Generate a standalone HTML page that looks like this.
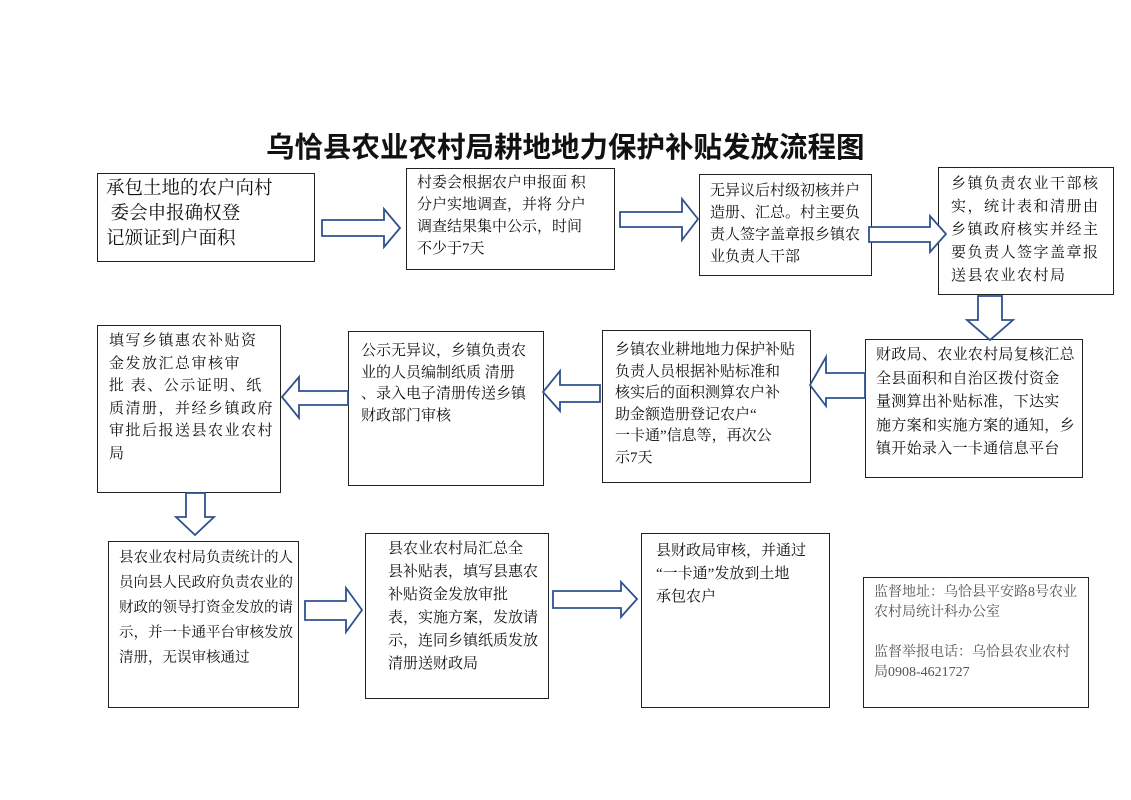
<!DOCTYPE html>
<html><head><meta charset="utf-8"><style>
html,body{margin:0;padding:0;background:#fff;}
body{width:1131px;height:800px;position:relative;overflow:hidden;font-family:"Liberation Serif","Noto Serif CJK SC",serif;color:#111;}
.b{position:absolute;border:1.5px solid #222;box-sizing:border-box;white-space:nowrap;font-size:15px;line-height:22px;overflow:hidden;}
.t{position:absolute;left:266px;top:125px;width:600px;font-family:"Liberation Sans","Noto Sans CJK SC",sans-serif;font-weight:bold;font-size:28.5px;letter-spacing:0px;white-space:nowrap;}
svg{position:absolute;left:0;top:0;}
</style></head><body>
<div class="t">乌恰县农业农村局耕地地力保护补贴发放流程图</div>

<div class="b" style="left:97px;top:173px;width:218px;height:89px;padding:3px 0 0 8px;font-size:18.5px;line-height:25px;">承包土地的农户向村<br>&nbsp;委会申报确权登<br>记颁证到户面积</div>
<div class="b" style="left:406px;top:168px;width:209px;height:102px;padding:3px 0 0 10px;">村委会根据农户申报面 积<br>分户实地调查，并将 分户<br>调查结果集中公示，时间<br>不少于7天</div>
<div class="b" style="left:699px;top:174px;width:173px;height:102px;padding:5px 0 0 10px;">无异议后村级初核并户<br>造册、汇总。村主要负<br>责人签字盖章报乡镇农<br>业负责人干部</div>
<div class="b" style="left:938px;top:167px;width:176px;height:128px;padding:5px 0 0 12px;letter-spacing:1.5px;line-height:23px;">乡镇负责农业干部核<br>实，统计表和清册由<br>乡镇政府核实并经主<br>要负责人签字盖章报<br>送县农业农村局</div>

<div class="b" style="left:865px;top:339px;width:218px;height:139px;padding:4px 0 0 10px;line-height:23.5px;letter-spacing:0.3px;">财政局、农业农村局复核汇总<br>全县面积和自治区拨付资金<br>量测算出补贴标准，下达实<br>施方案和实施方案的通知，乡<br>镇开始录入一卡通信息平台</div>
<div class="b" style="left:602px;top:330px;width:209px;height:153px;padding:9px 0 0 12px;line-height:21.5px;">乡镇农业耕地地力保护补贴<br>负责人员根据补贴标准和<br>核实后的面积测算农户补<br>助金额造册登记农户“<br>一卡通”信息等，再次公<br>示7天</div>
<div class="b" style="left:348px;top:331px;width:196px;height:155px;padding:9px 0 0 12px;line-height:21.5px;">公示无异议，乡镇负责农<br>业的人员编制纸质 清册<br>、录入电子清册传送乡镇<br>财政部门审核</div>
<div class="b" style="left:97px;top:325px;width:184px;height:168px;padding:4px 0 0 11px;line-height:22.5px;letter-spacing:1.5px;">填写乡镇惠农补贴资<br>金发放汇总审核审<br>批 表、公示证明、纸<br>质清册，并经乡镇政府<br>审批后报送县农业农村<br>局</div>

<div class="b" style="left:108px;top:541px;width:191px;height:167px;padding:4px 0 0 10px;line-height:25px;font-size:14.5px;">县农业农村局负责统计的人<br>员向县人民政府负责农业的<br>财政的领导打资金发放的请<br>示，并一卡通平台审核发放<br>清册，无误审核通过</div>
<div class="b" style="left:365px;top:533px;width:184px;height:166px;padding:4px 0 0 22px;line-height:23px;">县农业农村局汇总全<br>县补贴表，填写县惠农<br>补贴资金发放审批<br>表，实施方案，发放请<br>示，连同乡镇纸质发放<br>清册送财政局</div>
<div class="b" style="left:641px;top:533px;width:189px;height:175px;padding:6px 0 0 14px;line-height:23px;">县财政局审核，并通过<br>“一卡通”发放到土地<br>承包农户</div>
<div class="b" style="left:863px;top:577px;width:226px;height:131px;padding:5px 0 0 10px;line-height:20px;font-size:14px;color:#555;">监督地址：乌恰县平安路8号农业<br>农村局统计科办公室<br><br>监督举报电话：乌恰县农业农村<br>局0908-4621727</div>

<svg width="1131" height="800" fill="#fff" stroke="#2f528f" stroke-width="1.8">
<polygon points="322,220 384,220 384,209 400,228 384,247 384,236 322,236"/>
<polygon points="620,212 682,212 682,199 698,219 682,240 682,227 620,227"/>
<polygon points="869,227 930,227 930,216 946,234 930,252 930,242 869,242"/>
<polygon points="305,601 346,601 346,588 362,610 346,632 346,620 305,620"/>
<polygon points="553,591 621,591 621,582 637,599 621,617 621,608 553,608"/>
<polygon points="865,373 826,373 826,357 810,385 826,406 826,398 865,398"/>
<polygon points="600,385 560,385 560,371 543,392 560,411 560,402 600,402"/>
<polygon points="348,391 299,391 299,377 282,397 299,418 299,405 348,405"/>
<polygon points="978,296 1002,296 1002,320 1013,320 990,340 967,320 978,320"/>
<polygon points="186,493 205,493 205,517 214,517 195,535 176,517 186,517"/>
</svg>
</body></html>
